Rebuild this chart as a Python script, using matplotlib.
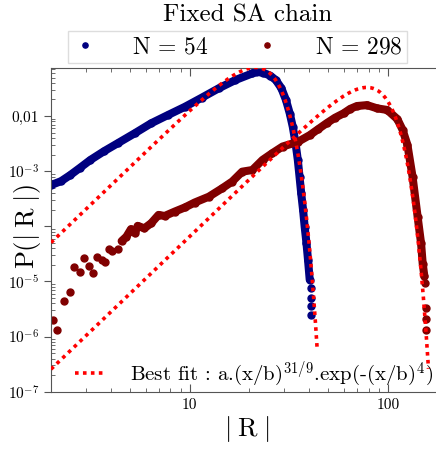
import matplotlib
matplotlib.use("Agg")
import matplotlib.pyplot as plt
import numpy as np
from matplotlib.ticker import FixedLocator, FixedFormatter, LogLocator, NullFormatter

plt.rcParams['font.family'] = ['cmr10', 'DejaVu Serif']
plt.rcParams['mathtext.fontset'] = 'cm'
plt.rcParams['axes.unicode_minus'] = False

# N = 54 chain
r54 = [2.0, 2.25, 2.5, 2.8, 3.16, 3.7, 4.33, 5.3, 6.4, 7.8, 9.46, 11.5, 14.0, 17.0,
       20.7, 21.5, 23.5, 25.5, 27.2, 29.0, 30.6, 32.0, 33.1, 34.2, 35.1, 35.8, 36.5,
       37.3, 38.0, 38.8, 39.5, 40.3, 40.7, 41.1, 41.1, 41.1]
p54 = [5.6e-4, 6.6e-4, 8.5e-4, 1.15e-3, 1.6e-3, 2.3e-3, 3.2e-3, 4.9e-3, 7.4e-3, 1.05e-2,
       1.47e-2, 2.15e-2, 3.18e-2, 4.5e-2, 5.94e-2, 6.35e-2, 6.1e-2, 5.4e-2, 4.49e-2,
       3.2e-2, 1.95e-2, 1.1e-2, 6.4e-3, 3.2e-3, 1.6e-3, 8.0e-4, 4.0e-4, 2.0e-4, 9.9e-5,
       5.0e-5, 2.5e-5, 1.07e-5, 7.5e-6, 5.0e-6, 3.6e-6, 2.5e-6]

# N = 298 chain
r298 = [2.04, 2.15, 2.33, 2.48, 2.62, 2.79, 2.94, 3.11, 3.25, 3.42, 3.60, 3.73, 3.92,
        4.08, 4.33, 4.54, 4.8, 5.06, 5.30, 5.47, 5.91, 6.40, 6.97, 7.48, 8.41, 9.46,
        10.6, 12.5, 14.6, 16.4, 18.4, 20.7, 23.3, 26.0, 29.4, 35.1, 40.3, 44.5, 49.0,
        54.0, 59.7, 64.5, 69.7, 78.4, 88.1, 99.1, 111.5, 118.5, 125.3, 133.0, 141.0,
        146.8, 149.6, 152.6, 154.5, 156.3, 156.3, 156.3]
p298 = [1.96e-6, 1.29e-6, 4.5e-6, 6.4e-6, 1.8e-5, 1.5e-5, 2.7e-5, 1.9e-5, 1.4e-5, 2.8e-5,
        2.5e-5, 2.3e-5, 3.8e-5, 3.6e-5, 3.9e-5, 5.4e-5, 6.5e-5, 8.9e-5, 7.5e-5, 1.02e-4,
        9.2e-5, 1.14e-4, 1.61e-4, 1.54e-4, 1.85e-4, 2.2e-4, 2.7e-4, 3.45e-4, 4.9e-4,
        6.5e-4, 9.8e-4, 1.05e-3, 1.6e-3, 2.1e-3, 2.8e-3, 3.4e-3, 4.5e-3, 5.8e-3, 7.4e-3,
        9.3e-3, 1.12e-2, 1.35e-2, 1.52e-2, 1.58e-2, 1.38e-2, 1.29e-2, 8.8e-3, 5.6e-3,
        3.0e-3, 7.9e-4, 1.5e-4, 4.9e-5, 2.1e-5, 1.23e-5, 9.3e-6, 3.3e-6, 2.1e-6, 1.33e-6]

# best fit a.(x/b)^(31/9).exp(-(x/b)^4)
fit_a = [0.205, 0.089]
fit_b = [22.3, 81.2]
fit_rmax = [44.0, 160.0]

labels = [r'$\mathrm{N}\,=\,54$', r'$\mathrm{N}\,=\,298$']
colors = ['#000080', '#800000']

fig = plt.figure(figsize=(4.36, 4.49), dpi=100)
ax = fig.add_axes([51 / 436, 57.3 / 449, 390 / 436, 324.2 / 449])

series = [(np.array(r54), np.array(p54)), (np.array(r298), np.array(p298))]
dense_from = [2.0, 4.5]
dense_to = [40.5, 153.0]
handles = []
for (r, p), c, lab, lo, hi in zip(series, colors, labels, dense_from, dense_to):
    m = (r >= lo) & (r <= hi)
    ax.plot(r[m], p[m], '-', color=c, lw=5.8, solid_capstyle='round',
            solid_joinstyle='round', zorder=2)
    h, = ax.plot(r, p, 'o', color=c, ms=5.0, mec=c, label=lab, zorder=2)
    handles.append(h)

for a, b, rmax in zip(fit_a, fit_b, fit_rmax):
    x = np.logspace(np.log10(2.0), np.log10(rmax), 300)
    y = a * (x / b) ** (31 / 9) * np.exp(-(x / b) ** 4)
    fl, = ax.plot(x, y, color='red', lw=2.6, ls=(0, (1, 1.2)), zorder=3,
                  label=r'Best fit : a.(x/b)$^{31/9}$.exp(-(x/b)$^4$)')

ax.set_xscale('log')
ax.set_yscale('log')
ax.set_xlim(2.0, 185)
ax.set_ylim(1e-7, 0.076)

ax.xaxis.set_major_locator(FixedLocator([10, 100]))
ax.xaxis.set_major_formatter(FixedFormatter(['10', '100']))
ax.xaxis.set_minor_locator(LogLocator(base=10, subs=np.arange(2, 10)))
ax.xaxis.set_minor_formatter(NullFormatter())
ax.yaxis.set_major_locator(FixedLocator([1e-7, 1e-6, 1e-5, 1e-4, 1e-3, 1e-2]))
ax.yaxis.set_major_formatter(FixedFormatter([r'$10^{-7}$', r'$10^{-6}$', r'$10^{-5}$', '',
                                             r'$10^{-3}$', '0,01']))
ax.yaxis.set_minor_locator(LogLocator(base=10, subs=np.arange(2, 10)))
ax.yaxis.set_minor_formatter(NullFormatter())
ax.tick_params(which='both', direction='in', top=True, right=True, labelsize=11,
               color='#555555')
ax.tick_params(axis='y', which='major', direction='out', length=5)
ax.tick_params(which='minor', length=3)
ax.tick_params(axis='x', which='major', length=6, pad=5)
for s in ax.spines.values():
    s.set_color('#555555')

ax.set_xlabel(r'$|\;\mathrm{R}\;|$', fontsize=19)
ax.xaxis.set_label_coords(196 / 390, -37.8 / 324.2)
ax.xaxis.label.set_va('center')
ax.set_ylabel(r'$\mathrm{P}(|\;\mathrm{R}\;|)$', fontsize=19)
ax.yaxis.set_label_coords(-24 / 390, 165 / 324.2)
ax.yaxis.label.set_va('center')

ax.legend(handles=[fl], loc='center left', bbox_to_anchor=(24 / 390, 18 / 324.2),
          frameon=False, fontsize=15, borderpad=0, borderaxespad=0,
          handlelength=1.4, handletextpad=1.25)

fig.text(0.569, 0.966, 'Fixed SA chain', ha='center', va='center', fontsize=18)
fig.legend(handles=handles, loc='center', bbox_to_anchor=(0.545, 0.895), ncol=2,
           fontsize=17, markerscale=0.75, handlelength=1.0, handletextpad=1.5,
           columnspacing=2.0, fancybox=False, edgecolor='#dddddd', framealpha=1,
           borderpad=0.2)

fig.savefig('out.png', dpi=100)
